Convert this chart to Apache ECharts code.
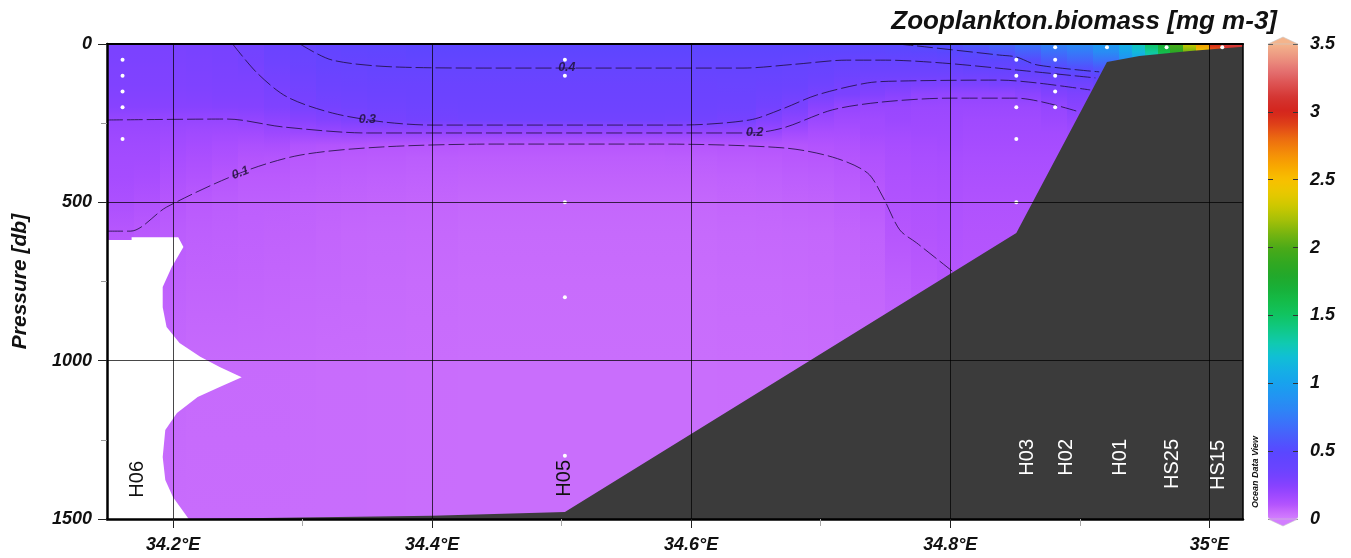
<!DOCTYPE html>
<html>
<head>
<meta charset="utf-8">
<title>Zooplankton biomass section</title>
<script src="https://cdn.jsdelivr.net/npm/echarts@6/dist/echarts.min.js"></script>
<style>
  html, body { margin: 0; padding: 0; background: #fff; }
  #chart { width: 1351px; height: 558px; }
</style>
</head>
<body>
<div id="chart"></div>
<script>
// ---- Section data: zooplankton biomass [mg m-3] along the transect ----

// Pressure levels [db] at which each profile column is given
const depthLevels = [0, 25, 50, 75, 100, 130, 160, 200, 240, 280, 320, 360, 420, 500, 600, 750, 1000, 1500];

// Longitude bounds of the profile columns (°E)
const lonBounds = [34.149, 34.17, 34.19, 34.21, 34.23, 34.25, 34.27, 34.29, 34.31, 34.33, 34.35, 34.38,
  34.42, 34.50, 34.58, 34.62, 34.65, 34.67, 34.69, 34.71, 34.73, 34.75, 34.77, 34.79, 34.81, 34.83,
  34.85, 34.87, 34.89, 34.91, 34.93, 34.94, 34.95, 34.96, 34.97, 34.98, 34.99, 35.00, 35.01, 35.026];

// Biomass per column, one value per pressure level (profiles stop at the seabed / data gap)
const biomassProfiles = [
  [0.29, 0.29, 0.285, 0.28, 0.275, 0.27, 0.26, 0.245, 0.2, 0.18, 0.17, 0.16, 0.15, 0.13, 0.098, 0.08],
  [0.29, 0.29, 0.285, 0.28, 0.275, 0.27, 0.26, 0.245, 0.2, 0.18, 0.17, 0.16, 0.145, 0.12, 0.09, 0.075],
  [0.295, 0.29, 0.285, 0.28, 0.275, 0.27, 0.26, 0.245, 0.2, 0.175, 0.16, 0.145, 0.125, 0.1, 0.085, 0.075, 0.06, 0.05],
  [0.298, 0.295, 0.29, 0.285, 0.28, 0.275, 0.265, 0.245, 0.2, 0.17, 0.15, 0.135, 0.115, 0.09, 0.08, 0.07, 0.055, 0.05],
  [0.305, 0.3, 0.295, 0.29, 0.285, 0.28, 0.27, 0.25, 0.2, 0.165, 0.14, 0.125, 0.1, 0.085, 0.078, 0.07, 0.055, 0.05],
  [0.33, 0.325, 0.315, 0.3, 0.29, 0.28, 0.27, 0.255, 0.21, 0.165, 0.13, 0.11, 0.09, 0.08, 0.075, 0.068, 0.055, 0.05],
  [0.37, 0.36, 0.35, 0.335, 0.32, 0.305, 0.29, 0.27, 0.225, 0.18, 0.135, 0.105, 0.09, 0.08, 0.072, 0.065, 0.055, 0.05],
  [0.4, 0.39, 0.375, 0.36, 0.345, 0.33, 0.315, 0.295, 0.245, 0.18, 0.115, 0.095, 0.085, 0.075, 0.07, 0.062, 0.052, 0.048],
  [0.43, 0.42, 0.4, 0.385, 0.37, 0.355, 0.34, 0.31, 0.26, 0.19, 0.11, 0.092, 0.082, 0.072, 0.065, 0.06, 0.05, 0.048],
  [0.45, 0.435, 0.41, 0.39, 0.375, 0.36, 0.345, 0.325, 0.28, 0.2, 0.105, 0.09, 0.08, 0.07, 0.062, 0.057, 0.05, 0.048],
  [0.46, 0.445, 0.42, 0.4, 0.385, 0.37, 0.355, 0.335, 0.305, 0.2, 0.1, 0.088, 0.078, 0.068, 0.06, 0.055, 0.048, 0.046],
  [0.47, 0.455, 0.43, 0.402, 0.385, 0.37, 0.36, 0.345, 0.32, 0.2, 0.1, 0.085, 0.075, 0.065, 0.058, 0.052, 0.046, 0.045],
  [0.47, 0.455, 0.43, 0.4, 0.385, 0.37, 0.36, 0.35, 0.33, 0.2, 0.098, 0.083, 0.072, 0.062, 0.055, 0.05, 0.045, 0.044],
  [0.47, 0.455, 0.43, 0.4, 0.385, 0.37, 0.36, 0.35, 0.33, 0.2, 0.098, 0.083, 0.072, 0.062, 0.055, 0.05, 0.045, 0.044],
  [0.47, 0.455, 0.43, 0.4, 0.385, 0.37, 0.36, 0.35, 0.325, 0.2, 0.1, 0.085, 0.072, 0.062, 0.055, 0.05, 0.045, 0.044],
  [0.47, 0.455, 0.43, 0.405, 0.39, 0.375, 0.36, 0.345, 0.31, 0.2, 0.103, 0.088, 0.075, 0.065, 0.057, 0.052, 0.046, 0.045],
  [0.47, 0.455, 0.43, 0.405, 0.39, 0.37, 0.35, 0.32, 0.26, 0.19, 0.105, 0.09, 0.078, 0.067, 0.058, 0.053, 0.047, 0.045],
  [0.47, 0.455, 0.425, 0.395, 0.38, 0.36, 0.335, 0.29, 0.23, 0.16, 0.105, 0.095, 0.082, 0.07, 0.06, 0.054, 0.048, 0.046],
  [0.47, 0.45, 0.41, 0.385, 0.37, 0.34, 0.3, 0.235, 0.185, 0.14, 0.113, 0.098, 0.085, 0.072, 0.062, 0.056, 0.05, 0.047],
  [0.475, 0.45, 0.4, 0.375, 0.35, 0.31, 0.285, 0.2, 0.17, 0.14, 0.12, 0.105, 0.092, 0.08, 0.068, 0.06, 0.052],
  [0.485, 0.455, 0.4, 0.37, 0.34, 0.295, 0.26, 0.19, 0.17, 0.155, 0.135, 0.12, 0.105, 0.09, 0.075, 0.065, 0.055],
  [0.505, 0.465, 0.405, 0.37, 0.34, 0.29, 0.24, 0.19, 0.18, 0.16, 0.145, 0.135, 0.125, 0.115, 0.1, 0.08, 0.06],
  [0.53, 0.47, 0.41, 0.37, 0.34, 0.28, 0.215, 0.185, 0.175, 0.165, 0.15, 0.14, 0.13, 0.12, 0.108, 0.09, 0.07],
  [0.55, 0.49, 0.42, 0.38, 0.34, 0.275, 0.21, 0.185, 0.175, 0.165, 0.155, 0.145, 0.135, 0.125, 0.115, 0.1, 0.08],
  [0.6, 0.51, 0.45, 0.405, 0.345, 0.28, 0.21, 0.185, 0.17, 0.16, 0.15, 0.14, 0.13, 0.12, 0.11, 0.1],
  [0.65, 0.56, 0.47, 0.405, 0.355, 0.29, 0.21, 0.185, 0.17, 0.16, 0.15, 0.14, 0.13, 0.12, 0.11, 0.1],
  [0.72, 0.62, 0.52, 0.44, 0.37, 0.29, 0.23, 0.185, 0.17, 0.16, 0.15, 0.14, 0.13, 0.12, 0.11, 0.1],
  [0.8, 0.7, 0.6, 0.51, 0.39, 0.31, 0.26, 0.2, 0.18, 0.16, 0.15, 0.14, 0.13, 0.12],
  [0.85, 0.75, 0.65, 0.54, 0.42, 0.33, 0.28, 0.24, 0.2, 0.17, 0.15],
  [0.95, 0.85, 0.72, 0.58, 0.45, 0.36, 0.3],
  [1.1, 1.0, 0.88, 0.75],
  [1.28, 1.15, 1.0],
  [1.5, 1.35, 1.2],
  [1.75, 1.6, 1.4],
  [2.0, 1.85, 1.6],
  [2.3, 2.1, 1.8],
  [2.65, 2.4, 2.1],
  [3.0, 2.8, 2.4],
  [3.15, 3.0, 2.6]
];

// Isolines [lon, pressure]
const isoline01 = [[34.149, 591], [34.167, 591], [34.195, 515], [34.252, 407], [34.298, 351], [34.362, 325], [34.45, 316],
  [34.573, 316], [34.671, 328], [34.709, 357], [34.736, 407], [34.748, 483], [34.761, 587], [34.774, 628], [34.803, 722]];
const isoline02 = [[34.149, 240], [34.242, 237], [34.285, 262], [34.35, 281], [34.645, 281], [34.671, 265], [34.709, 208],
  [34.748, 183], [34.80, 171], [34.851, 171], [34.90, 215]];
const isoline03 = [[34.246, 0], [34.265, 92], [34.288, 167], [34.323, 218], [34.362, 246], [34.40, 256], [34.59, 256],
  [34.645, 240], [34.671, 204], [34.697, 161], [34.736, 123], [34.761, 117], [34.838, 114], [34.867, 123], [34.908, 145]];
const isoline04 = [[34.298, 0], [34.323, 51], [34.375, 73], [34.45, 76], [34.64, 76], [34.68, 64], [34.72, 51], [34.75, 51],
  [34.794, 60], [34.851, 82], [34.912, 107]];
const isoline05 = [[34.759, 0], [34.774, 6], [34.838, 35], [34.851, 41], [34.867, 66], [34.915, 88]];

const isolineLabels = ['0.1', '0.2', '0.3', '0.4'];
const isolineLabelAt = [[34.252, 407], [34.649, 281], [34.350, 237], [34.504, 73]];

// Stations and sampled pressures
const stationNames = ['H06', 'H05', 'H03', 'H02', 'H01', 'HS25', 'HS15'];
const stationLon = [34.161, 34.5025, 34.851, 34.881, 34.921, 34.967, 35.010];
const sampleDepths = [
  [50, 100, 150, 200, 300],
  [50, 100, 500, 800, 1300],
  [50, 100, 200, 300, 500],
  [10, 50, 100, 150, 200],
  [10],
  [10],
  [10]
];

// Seabed outline and the region without data
const seabed = [[34.149, 1500], [34.212, 1500], [34.40, 1490], [34.5025, 1478], [34.851, 597], [34.921, 57],
  [34.946, 38], [34.985, 22], [35.026, 9], [35.026, 1500]];
const noDataZone = [[34.149, 619], [34.168, 619], [34.168, 610], [34.204, 610], [34.208, 641], [34.199, 704],
  [34.192, 767], [34.192, 831], [34.195, 894], [34.205, 944], [34.221, 988], [34.236, 1020], [34.253, 1052],
  [34.236, 1083], [34.219, 1115], [34.203, 1165], [34.194, 1219], [34.192, 1304], [34.194, 1377],
  [34.200, 1431], [34.211, 1494], [34.212, 1500], [34.149, 1500]];

const lonTicks = [34.2, 34.4, 34.6, 34.8, 35.0];
const lonMinorTicks = [34.3, 34.5, 34.7, 34.9];

// ---- Styling ----
const FONT = '"Liberation Sans", Arial, sans-serif';
const LON_MIN = lonBounds[0], LON_MAX = lonBounds[lonBounds.length - 1];
const labelFont = { fontFamily: FONT, fontSize: 18, fontWeight: 'bold', fontStyle: 'italic', color: '#111' };

// ODV-like rainbow colour scale (value -> colour)
const rampStops = [
  [0.00, '#d27eff'], [0.05, '#c86cfc'], [0.10, '#b656fd'], [0.15, '#a64cff'], [0.20, '#9646ff'],
  [0.25, '#8642ff'], [0.30, '#7842ff'], [0.35, '#6e43ff'], [0.40, '#6644ff'], [0.45, '#6045ff'],
  [0.50, '#5948ff'], [0.60, '#4a5cfc'], [0.70, '#3c70fa'], [0.80, '#2e84f6'], [0.90, '#2294f2'],
  [1.00, '#18a2ee'], [1.10, '#14b0e4'], [1.20, '#10c0d4'], [1.30, '#10caae'], [1.40, '#10c886'],
  [1.50, '#10c462'], [1.60, '#14bc4a'], [1.70, '#18b038'], [1.80, '#22a82a'], [1.90, '#34a820'],
  [2.00, '#4caa18'], [2.10, '#76b410'], [2.20, '#a4c008'], [2.30, '#cac800'], [2.40, '#e8c800'],
  [2.50, '#f8c000'], [2.60, '#f8a800'], [2.70, '#f48c08'], [2.80, '#ec6c10'], [2.90, '#e04418'],
  [3.00, '#d4241c'], [3.10, '#d43430'], [3.20, '#dc5050'], [3.30, '#e47070'], [3.40, '#ec9480'],
  [3.50, '#f4b48c']
];
function hexRgb(c) { return [1, 3, 5].map(i => parseInt(c.slice(i, i + 2), 16)); }
function rampColor(v) {
  if (v <= rampStops[0][0]) return rampStops[0][1];
  for (let i = 1; i < rampStops.length; i++) {
    if (v <= rampStops[i][0]) {
      const a = hexRgb(rampStops[i - 1][1]), b = hexRgb(rampStops[i][1]);
      const t = (v - rampStops[i - 1][0]) / (rampStops[i][0] - rampStops[i - 1][0]);
      return 'rgb(' + a.map((x, j) => Math.round(x + (b[j] - x) * t)).join(',') + ')';
    }
  }
  return rampStops[rampStops.length - 1][1];
}
const barColors = [];
for (let k = 0; k <= 70; k++) barColors.push(rampColor(k * 0.05));

// one item per profile column: [lon0, lon1, top, bottom, surface value]
const fieldItems = biomassProfiles.map((p, i) =>
  [lonBounds[i], lonBounds[i + 1], depthLevels[0], depthLevels[p.length - 1], p[0]]);

const isolineStyle = { color: '#1c0f3c', width: 0.9, type: [16, 4], opacity: 0.9 };
function isolineSeries(data) {
  return {
    type: 'line', data, xAxisIndex: 0, yAxisIndex: 0, symbol: 'none', smooth: 0.3,
    lineStyle: isolineStyle, z: 3, silent: true, animation: false
  };
}
function polygonSeries(points, fill, z) {
  return {
    type: 'custom', xAxisIndex: 0, yAxisIndex: 0, z, silent: true, clip: true,
    data: points,
    encode: { x: 0, y: 1 },
    renderItem(params, api) {
      if (params.dataIndex !== 0) return null;
      return { type: 'polygon', shape: { points: points.map(p => api.coord(p)) }, style: { fill } };
    }
  };
}

const samplePoints = [];
stationLon.forEach((lon, i) => sampleDepths[i].forEach(d => samplePoints.push([lon, d])));

const chart = echarts.init(document.getElementById('chart'), null, { renderer: 'canvas' });

const option = {
  animation: false,
  backgroundColor: '#fff',
  textStyle: { fontFamily: FONT },
  title: {
    text: 'Zooplankton.biomass [mg m-3]',
    right: 74, top: 9, padding: 0,
    textStyle: { fontFamily: FONT, fontSize: 26, fontWeight: 'bold', fontStyle: 'italic', color: '#111' }
  },
  grid: [
    { left: 107, right: 108, top: 44, bottom: 39, containLabel: false, outerBoundsMode: 'none' },
    { left: 1268, width: 30, top: 44, height: 475, containLabel: false, outerBoundsMode: 'none' }
  ],
  xAxis: [
    {
      type: 'value', gridIndex: 0, min: LON_MIN, max: LON_MAX, position: 'bottom', z: 6,
      axisLine: { show: true, onZero: false, lineStyle: { color: '#000', width: 2.5 } },
      axisTick: { show: true, customValues: lonTicks, length: 9, lineStyle: { color: '#222', width: 1 } },
      axisLabel: { customValues: lonTicks, formatter: v => (+v.toFixed(1)) + '°E', margin: 17, ...labelFont },
      splitLine: { show: true, lineStyle: { color: 'rgba(0,0,0,0.72)', width: 1 } }
    },
    {
      type: 'value', gridIndex: 0, min: LON_MIN, max: LON_MAX, position: 'bottom', z: 6,
      axisLine: { show: false, onZero: false },
      axisTick: { show: true, customValues: lonMinorTicks, length: 7, lineStyle: { color: '#aaa', width: 1 } },
      axisLabel: { show: false, customValues: lonMinorTicks },
      splitLine: { show: false }
    },
    {
      type: 'value', gridIndex: 0, min: LON_MIN, max: LON_MAX, position: 'top', z: 6,
      axisLine: { show: true, onZero: false, lineStyle: { color: '#000', width: 2 } },
      axisTick: { show: false }, axisLabel: { show: false }, splitLine: { show: false }
    },
    { type: 'value', gridIndex: 1, min: 0, max: 1, show: false }
  ],
  yAxis: [
    {
      type: 'value', gridIndex: 0, inverse: true, min: 0, max: 1500, interval: 500, position: 'left', z: 6,
      name: 'Pressure [db]', nameLocation: 'middle', nameRotate: 90, nameGap: 76,
      nameTextStyle: { fontFamily: FONT, fontSize: 21, fontWeight: 'bold', fontStyle: 'italic', color: '#111' },
      axisLine: { show: true, onZero: false, lineStyle: { color: '#000', width: 2.5 } },
      axisTick: { show: true, length: 9, lineStyle: { color: '#222', width: 1 } },
      minorTick: { show: true, splitNumber: 2, length: 6, lineStyle: { color: '#999', width: 1 } },
      axisLabel: { margin: 15, formatter: v => String(v), ...labelFont },
      splitLine: { show: true, lineStyle: { color: 'rgba(0,0,0,0.72)', width: 1 } }
    },
    {
      type: 'value', gridIndex: 0, inverse: true, min: 0, max: 1500, position: 'right', z: 6,
      axisLine: { show: true, onZero: false, lineStyle: { color: '#000', width: 1.5 } },
      axisTick: { show: false }, axisLabel: { show: false }, splitLine: { show: false }
    },
    {
      type: 'value', gridIndex: 1, min: 0, max: 3.5, interval: 0.5, position: 'left', z: 6,
      axisLine: { show: false }, axisLabel: { show: false }, splitLine: { show: false },
      axisTick: { show: true, inside: true, length: 5, lineStyle: { color: '#333', width: 1 } }
    },
    {
      type: 'value', gridIndex: 1, min: 0, max: 3.5, interval: 0.5, position: 'right', z: 6,
      axisLine: { show: false }, splitLine: { show: false },
      axisTick: { show: true, inside: true, length: 5, lineStyle: { color: '#333', width: 1 } },
      axisLabel: { margin: 12, formatter: v => String(v), ...labelFont }
    }
  ],
  visualMap: {
    type: 'continuous', seriesIndex: 0, dimension: 4, min: 0, max: 3.5,
    left: 1268, top: 44, itemWidth: 30, itemHeight: 475, padding: 0,
    calculable: false, hoverLink: false, realtime: false,
    inRange: { color: barColors }, textStyle: { color: 'transparent' }
  },
  series: [
    {
      // biomass field: one column per profile, shaded down the pressure levels
      type: 'custom', xAxisIndex: 0, yAxisIndex: 0, z: 1, silent: true, clip: true,
      data: fieldItems,
      encode: { x: [0, 1], y: [2, 3] },
      renderItem(params, api) {
        const i = params.dataIndex;
        const prof = biomassProfiles[i];
        const last = prof.length - 1;
        const p0 = api.coord([lonBounds[i], depthLevels[0]]);
        const p1 = api.coord([lonBounds[i + 1], depthLevels[last]]);
        const x0 = Math.round(p0[0]), x1 = Math.round(p1[0]);
        const h = p1[1] - p0[1];
        const stops = prof.map((v, k) => ({
          offset: (api.coord([lonBounds[i], depthLevels[k]])[1] - p0[1]) / h,
          color: rampColor(v)
        }));
        return {
          type: 'rect',
          shape: { x: x0, y: p0[1], width: x1 - x0 + 1, height: h },
          style: { fill: new echarts.graphic.LinearGradient(0, 0, 0, 1, stops) }
        };
      }
    },
    isolineSeries(isoline01),
    isolineSeries(isoline02),
    isolineSeries(isoline03),
    isolineSeries(isoline04),
    isolineSeries(isoline05),
    polygonSeries(noDataZone, '#ffffff', 4),
    polygonSeries(seabed, '#3b3b3b', 4),
    {
      type: 'scatter', xAxisIndex: 0, yAxisIndex: 0, z: 5, silent: true,
      symbol: 'circle', symbolSize: 4, itemStyle: { color: '#ffffff', opacity: 1 },
      data: samplePoints
    },
    {
      type: 'scatter', xAxisIndex: 0, yAxisIndex: 0, z: 5, silent: true, symbolSize: 0,
      data: isolineLabelAt.map((p, i) => ({
        value: [p[0], p[1]], name: isolineLabels[i],
        label: { rotate: isolineLabels[i] === '0.1' ? 21 : 0 }
      })),
      label: {
        show: true, position: 'inside', formatter: p => p.name,
        fontFamily: FONT, fontSize: 12.5, fontWeight: 'bold', fontStyle: 'italic', color: '#1a1030'
      }
    }
  ]
};

chart.setOption(option);

// station names, colour-bar end caps and the credit line
const labelShift = { H06: [15, 58], H05: [0, 59], H03: [11, 80], H02: [11, 80], H01: [13, 80], HS25: [6, 80], HS15: [-4, 79] };
const elements = stationNames.map((name, i) => {
  const p = chart.convertToPixel({ xAxisIndex: 0, yAxisIndex: 0 }, [stationLon[i], 1500]);
  const s = labelShift[name];
  return {
    type: 'text', x: p[0] + s[0], y: p[1] - s[1], rotation: Math.PI / 2, z: 20,
    style: {
      text: name, align: 'right', verticalAlign: 'middle',
      font: '20px ' + FONT, fill: i < 2 ? '#111' : '#ffffff'
    }
  };
});
const barTop = chart.convertToPixel({ xAxisIndex: 3, yAxisIndex: 2 }, [0, 3.5]);
const barBot = chart.convertToPixel({ xAxisIndex: 3, yAxisIndex: 2 }, [0, 0]);
elements.push(
  { type: 'polygon', z: 20, shape: { points: [[1268, barTop[1]], [1283, barTop[1] - 7], [1298, barTop[1]]] }, style: { fill: rampColor(3.5), stroke: '#c9c9c9', lineWidth: 0.6 } },
  { type: 'polygon', z: 20, shape: { points: [[1268, barBot[1]], [1283, barBot[1] + 7], [1298, barBot[1]]] }, style: { fill: rampColor(0), stroke: '#c9c9c9', lineWidth: 0.6 } },
  {
    type: 'text', x: 1256, y: 472, rotation: Math.PI / 2, z: 20,
    style: { text: 'Ocean Data View', align: 'center', verticalAlign: 'middle', font: 'italic bold 9px ' + FONT, fill: '#111' }
  }
);
chart.setOption({ graphic: { elements } });
</script>
</body>
</html>
